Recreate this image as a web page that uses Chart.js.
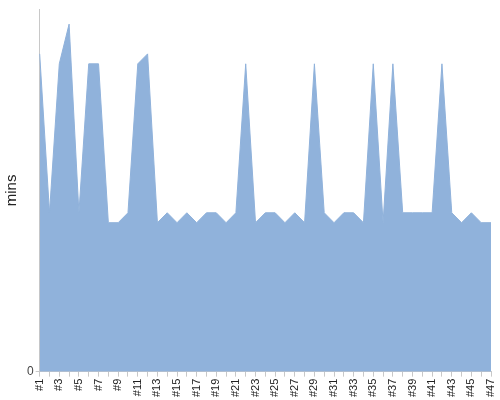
<!DOCTYPE html>
<html>
<head>
<meta charset="utf-8">
<script src="https://cdn.jsdelivr.net/npm/chart.js@4"></script>
<style>
  html, body { margin: 0; padding: 0; background: #fff; }
  #wrap { width: 500px; height: 400px; }
</style>
</head>
<body>
<div id="wrap"><canvas id="minsChart"></canvas></div>
<script>
const runs = [];
for (let i = 1; i <= 47; i++) runs.push("#" + i);

// minutes per run
const mins = [
  32, 16, 31, 35, 16, 31, 31, 15, 15, 16,
  31, 32, 15, 16, 15, 16, 15, 16, 16, 15,
  16, 31, 15, 16, 16, 15, 16, 15, 31, 16,
  15, 16, 16, 15, 31, 15, 31, 16, 16, 16,
  16, 31, 16, 15, 16, 15, 15
];

const yTicks = [0];

const ctx = document.getElementById("minsChart").getContext("2d");

new Chart(ctx, {
  type: "line",
  data: {
    labels: runs,
    datasets: [
      {
        label: "mins",
        data: mins,
        fill: "origin",
        backgroundColor: "#90b2db",
        borderColor: "#90b2db",
        borderWidth: 1,
        pointRadius: 0,
        tension: 0,
      },
    ],
  },
  options: {
    responsive: true,
    maintainAspectRatio: false,
    animation: false,
    layout: { padding: { top: 4, right: 9, left: 3, bottom: 1 } },
    plugins: {
      legend: { display: false },
      tooltip: { enabled: false },
    },
    scales: {
      x: {
        offset: false,
        afterFit: (scale) => {
          // let the last rotated label sit inside the right padding
          scale.paddingRight = 0;
          scale.paddingLeft = 0;
        },
        grid: {
          display: true,
          drawOnChartArea: false,
          color: "#c8c8c8",
          tickLength: 5,
        },
        border: { color: "#c8c8c8" },
        ticks: {
          autoSkip: false,
          minRotation: 90,
          maxRotation: 90,
          padding: 2,
          color: "#222",
          font: { family: "Liberation Sans, Arial", size: 11 },
          callback: function (val, idx) {
            return idx % 2 === 0 ? this.getLabelForValue(val) : "";
          },
        },
      },
      y: {
        min: 0,
        max: 36.5,
        afterBuildTicks: (scale) => {
          scale.ticks = yTicks.map((v) => ({ value: v }));
        },
        grid: {
          display: true,
          drawOnChartArea: false,
          color: "#c8c8c8",
          tickLength: 4,
        },
        border: { color: "#c8c8c8" },
        ticks: {
          color: "#444",
          padding: 2,
          font: { family: "Liberation Sans, Arial", size: 12 },
        },
        title: {
          display: true,
          text: "mins",
          color: "#222",
          padding: { top: 0, bottom: 4 },
          font: { family: "Liberation Sans, Arial", size: 15 },
        },
      },
    },
  },
});
</script>
</body>
</html>
